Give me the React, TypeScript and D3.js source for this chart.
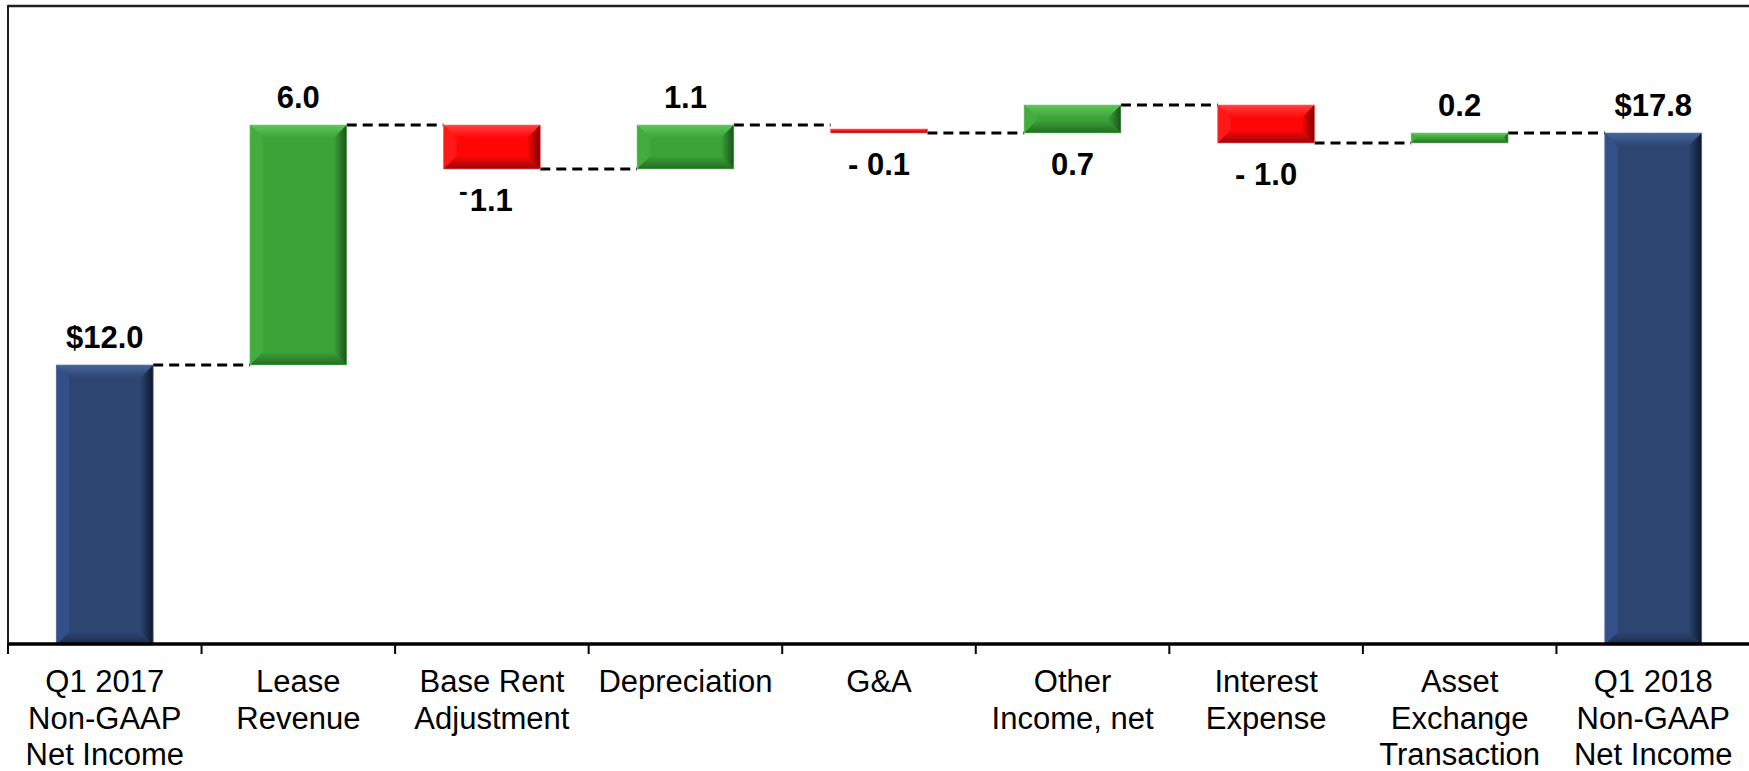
import React from "react";
import * as d3 from "d3";

const categories: string[][] = [
  ["Q1 2017", "Non-GAAP", "Net Income"],
  ["Lease", "Revenue"],
  ["Base Rent", "Adjustment"],
  ["Depreciation"],
  ["G&A"],
  ["Other", "Income, net"],
  ["Interest", "Expense"],
  ["Asset", "Exchange", "Transaction"],
  ["Q1 2018", "Non-GAAP", "Net Income"],
];
const categoryKeys = ["q1_2017", "lease", "baseRent", "depr", "ga", "other", "interest", "asset", "q1_2018"];

// displayed values (totals and deltas)
const values = [12.0, 6.0, -1.1, 1.1, -0.1, 0.7, -1.0, 0.2, 17.8];
const kinds = ["total", "delta", "delta", "delta", "delta", "delta", "delta", "delta", "total"];
// bar extents as drawn in the picture ($M)
const barFrom = [5, 12.0, 18.0, 16.9, 17.9, 17.8, 18.5, 17.55, 5];
const barTo = [12.0, 18.0, 16.9, 18.0, 17.8, 18.5, 17.55, 17.8, 17.8];
const labelText = ["$12.0", "6.0", "-1.1", "1.1", "- 0.1", "0.7", "- 1.0", "0.2", "$17.8"];
const labelSide = ["above", "above", "below", "above", "below", "below", "below", "above", "above"];

const W = 1749;
const H = 771;

const palettes: Record<string, { face: string; top: string; left: string; right: string; bottom: string; edge: string }> = {
  total: { face: "#2C4571", top: "#46659A", left: "#33508A", right: "#0E1830", bottom: "#1C2C4A", edge: "#5A78A8" },
  up: { face: "#3BA338", top: "#5EC65A", left: "#42AC3F", right: "#1A521A", bottom: "#236C21", edge: "#7CCB78" },
  down: { face: "#FF0606", top: "#FF4040", left: "#FF1818", right: "#7A0000", bottom: "#9A0808", edge: "#FF7070" },
};

function BevelBar({ id, x0, y0, w, h, kind }: { id: string; x0: number; y0: number; w: number; h: number; kind: string }) {
  const p = palettes[kind];
  const x1 = x0 + w;
  const y1 = y0 + h;
  const b = Math.min(13, h / 2, w / 2);
  const pts = (arr: number[][]) => arr.map((d) => d.join(",")).join(" ");
  return (
    <g>
      <defs>
        <linearGradient id={id + "r"} x1="0" x2="1" y1="0" y2="0">
          <stop offset="0" stopColor={p.face} />
          <stop offset="1" stopColor={p.right} />
        </linearGradient>
        <linearGradient id={id + "b"} x1="0" x2="0" y1="0" y2="1">
          <stop offset="0" stopColor={p.face} />
          <stop offset="1" stopColor={p.bottom} />
        </linearGradient>
        <linearGradient id={id + "t"} x1="0" x2="0" y1="0" y2="1">
          <stop offset="0" stopColor={p.top} />
          <stop offset="1" stopColor={p.face} />
        </linearGradient>
      </defs>
      <rect x={x0} y={y0} width={w} height={h} fill={p.face} />
      <polygon points={pts([[x0, y0], [x1, y0], [x1 - b, y0 + b], [x0 + b, y0 + b]])} fill={`url(#${id}t)`} />
      <polygon points={pts([[x0, y0], [x0 + b, y0 + b], [x0 + b, y1 - b], [x0, y1]])} fill={p.left} />
      <polygon points={pts([[x1, y0], [x1, y1], [x1 - b, y1 - b], [x1 - b, y0 + b]])} fill={`url(#${id}r)`} />
      <polygon points={pts([[x0, y1], [x1, y1], [x1 - b, y1 - b], [x0 + b, y1 - b]])} fill={`url(#${id}b)`} />
      <rect x={x0} y={y0} width={w} height={h} fill="none" stroke={p.edge} strokeWidth={1} strokeOpacity={0.6} />
    </g>
  );
}

export default function App() {
  const x = d3
    .scaleBand<string>()
    .domain(categoryKeys)
    .range([8, 1750])
    .paddingInner(0.5)
    .paddingOuter(0.25);
  const y = d3.scaleLinear().domain([5, 18]).range([645, 125]);
  const step = x.step();
  const bw = x.bandwidth();

  const bars = categoryKeys.map((k, i) => {
    const lo = Math.min(barFrom[i], barTo[i]);
    const hi = Math.max(barFrom[i], barTo[i]);
    const kind = kinds[i] === "total" ? "total" : values[i] >= 0 ? "up" : "down";
    return { k, i, x0: x(k)!, yTop: y(hi), yBot: y(lo), kind };
  });

  const ticks = d3.range(categoryKeys.length + 1).map((i) => x(categoryKeys[0])! - step * 0.25 + i * step);

  const font = "'Liberation Sans', Arial, sans-serif";

  return (
    <svg width={W} height={H} style={{ position: "absolute", left: 0, top: 0, background: "#fff" }}>
      {/* frame */}
      <line x1={8} x2={W} y1={6} y2={6} stroke="#1b1d2b" strokeWidth={2.5} />
      <line x1={8} x2={8} y1={5} y2={645} stroke="#1b1d2b" strokeWidth={2} />

      {/* connectors */}
      {bars.slice(0, -1).map((b, i) => {
        const lvl = barTo[i];
        return (
          <line
            key={"c" + i}
            x1={b.x0 + bw}
            x2={bars[i + 1].x0}
            y1={y(lvl)}
            y2={y(lvl)}
            stroke="#000"
            strokeWidth={3}
            strokeDasharray="10,6"
          />
        );
      })}

      {/* bars */}
      {bars.map((b) => (
        <BevelBar key={b.k} id={"g" + b.k} x0={b.x0} y0={b.yTop} w={bw} h={Math.max(3, b.yBot - b.yTop)} kind={b.kind} />
      ))}

      {/* axis */}
      <line x1={8} x2={W} y1={644} y2={644} stroke="#000" strokeWidth={3.5} />
      {ticks.map((t, i) => (
        <line key={"t" + i} x1={t} x2={t} y1={644} y2={654} stroke="#000" strokeWidth={2} />
      ))}

      {/* value labels */}
      {bars.map((b, i) => {
        const cx = b.x0 + bw / 2;
        const above = labelSide[i] === "above";
        const ty = above ? b.yTop - 17 : b.yBot + 42;
        const txt = labelText[i];
        if (txt === "-1.1") {
          return (
            <text key={"v" + i} x={cx - 6} y={ty} textAnchor="middle" fontFamily={font} fontWeight="bold" fontSize={31} fill="#000">
              <tspan fontSize={26} dy={-11}>-</tspan>
              <tspan dy={11} dx={2}>1.1</tspan>
            </text>
          );
        }
        return (
          <text key={"v" + i} x={cx} y={ty} textAnchor="middle" fontFamily={font} fontWeight="bold" fontSize={31} fill="#000">
            {txt}
          </text>
        );
      })}

      {/* category labels */}
      {categoryKeys.map((k, i) => (
        <text key={"l" + k} x={x(k)! + bw / 2} y={692} textAnchor="middle" fontFamily={font} fontSize={31} fill="#000">
          {categories[i].map((line, j) => (
            <tspan key={j} x={x(k)! + bw / 2} y={692 + j * 36.5}>
              {line}
            </tspan>
          ))}
        </text>
      ))}
    </svg>
  );
}
